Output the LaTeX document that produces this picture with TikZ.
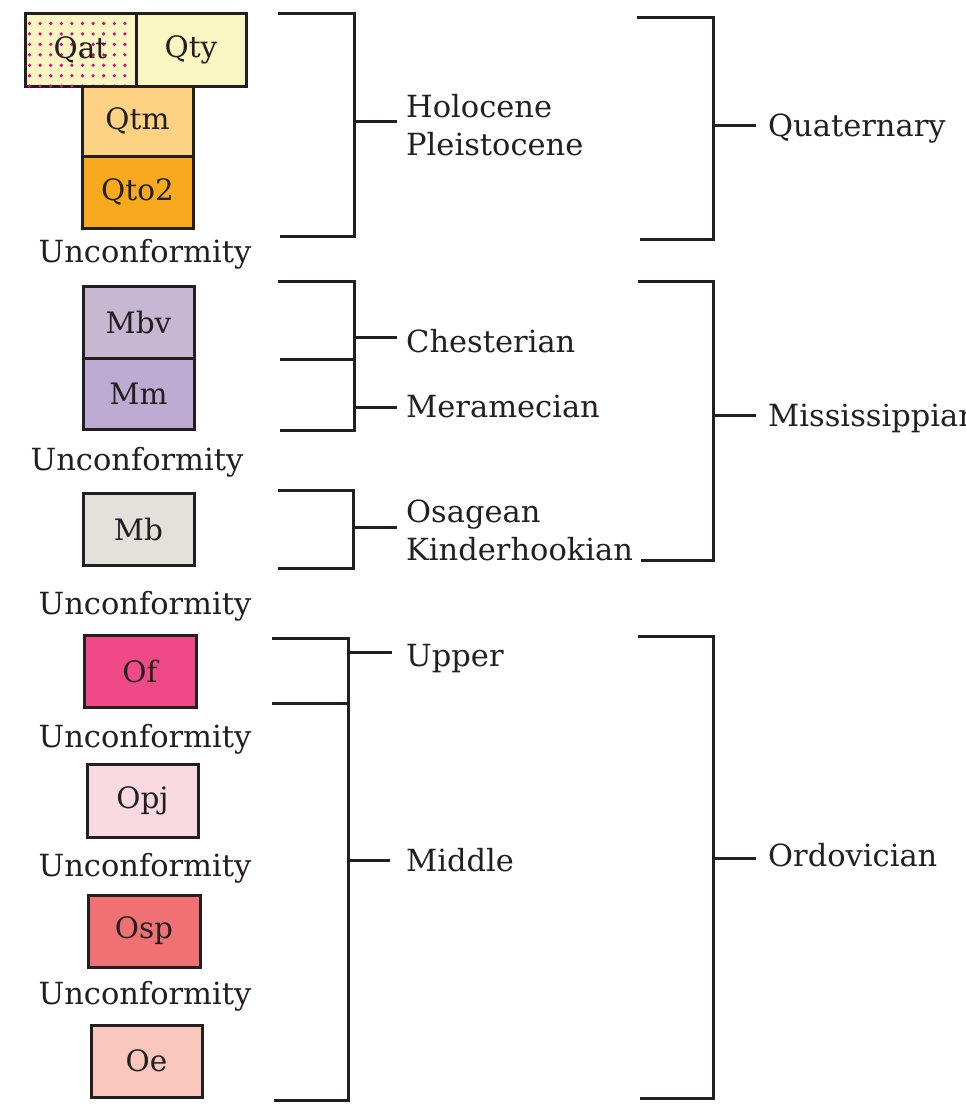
\documentclass[tikz,border=0pt]{standalone}
\usepackage{fontspec}
\setmainfont{DejaVu Serif}
\definecolor{linec}{HTML}{231F20}
\definecolor{txt}{HTML}{231F20}
\definecolor{cQat}{HTML}{FAF6C2}
\definecolor{cQty}{HTML}{FAF6C2}
\definecolor{cQtm}{HTML}{FDD282}
\definecolor{cQto}{HTML}{F9A91E}
\definecolor{cMbv}{HTML}{C5B8D2}
\definecolor{cMm}{HTML}{BCABD3}
\definecolor{cMb}{HTML}{E2E2DB}
\definecolor{cOf}{HTML}{EF4A87}
\definecolor{cOpj}{HTML}{F9DAE2}
\definecolor{cOsp}{HTML}{F07173}
\definecolor{cOe}{HTML}{F9C7BB}
\definecolor{dotc}{HTML}{E6007E}
\begin{document}
\begin{tikzpicture}[x=1pt,y=-1pt,
  box/.style={draw=linec, line width=3pt, inner sep=0pt, text=txt,
    font=\fontsize{29.5}{34}\selectfont},
  lbl/.style={anchor=base west, inner sep=0pt, text=txt,
    font=\fontsize{30.5}{36}\selectfont},
  unc/.style={anchor=base, inner sep=0pt, text=txt,
    font=\fontsize{30.5}{36}\selectfont},
  brk/.style={draw=linec, line width=3pt},
  stub/.style={draw=linec, line width=3pt}]
\useasboundingbox (0,0) rectangle (966,1108);

% ---------- boxes ----------
\node[box, fill=cQat, minimum width=111pt, minimum height=72pt] (Qat) at (80.5,50) {};
\foreach \i in {0,...,9}{
  \foreach \j in {0,...,6}{
    \fill[dotc] (29.5+10.6*\i, 23.5+10.45*\j) circle (1.8pt);
  }
}
\node[inner sep=0pt, text=txt, font=\fontsize{29.5}{34}\selectfont] (Qatl) at (Qat.center) {Qat};
\node[box, fill=cQty, minimum width=110pt, minimum height=72pt] (Qty) at (191,50) {Qty};
\node[box, fill=cQtm, minimum width=111pt, minimum height=70pt] (Qtm) at (137.5,121) {Qtm};
\node[box, fill=cQto, minimum width=111pt, minimum height=72pt] (Qto) at (137.5,192) {Qto2};

\node[box, fill=cMbv, minimum width=111pt, minimum height=72pt] (Mbv) at (138.5,322) {Mbv};
\node[box, fill=cMm, minimum width=111pt, minimum height=71pt] (Mm) at (138.5,393.5) {Mm};
\node[box, fill=cMb, minimum width=111pt, minimum height=72pt] (Mb) at (138.5,529) {Mb};

\node[box, fill=cOf, minimum width=112pt, minimum height=72pt] (Of) at (140,671) {Of};
\node[box, fill=cOpj, minimum width=111pt, minimum height=73pt] (Opj) at (142.5,800.5) {Opj};
\node[box, fill=cOsp, minimum width=112pt, minimum height=72pt] (Osp) at (144,931) {Osp};
\node[box, fill=cOe, minimum width=111pt, minimum height=72pt] (Oe) at (146.5,1061) {Oe};

% ---------- unconformities ----------
\node[unc] (u1) at (145,262) {Unconformity};
\node[unc] (u2) at (137,470) {Unconformity};
\node[unc] (u3) at (145,614) {Unconformity};
\node[unc] (u4) at (145,747) {Unconformity};
\node[unc] (u5) at (145,876) {Unconformity};
\node[unc] (u6) at (145,1004) {Unconformity};

% ---------- first column brackets ----------
\coordinate (a1) at (278,14);  \coordinate (a2) at (354,14);
\coordinate (a3) at (354,236); \coordinate (a4) at (280,236);
\coordinate (am) at (354,121); \coordinate (ae) at (397,121);
\draw[brk] (a1) -- (a2) -- (a3) -- (a4);
\draw[stub] (am) -- (ae);
\node[lbl] (hol) at (406,117) {Holocene};
\node[lbl] (ple) at (406,155) {Pleistocene};

\coordinate (b1) at (278,281);  \coordinate (b2) at (354,281);
\coordinate (b3) at (354,430);  \coordinate (b4) at (280,430);
\coordinate (b5) at (280,359);  \coordinate (b6) at (354,359);
\coordinate (bm1) at (354,337); \coordinate (be1) at (397,337);
\coordinate (bm2) at (354,407); \coordinate (be2) at (397,407);
\draw[brk] (b1) -- (b2) -- (b3) -- (b4);
\draw[brk] (b5) -- (b6);
\draw[stub] (bm1) -- (be1);
\draw[stub] (bm2) -- (be2);
\node[lbl] (che) at (406,352) {Chesterian};
\node[lbl] (mer) at (406,417) {Meramecian};

\coordinate (c1) at (278,490);  \coordinate (c2) at (353,490);
\coordinate (c3) at (353,568);  \coordinate (c4) at (278,568);
\coordinate (cm) at (353,527);  \coordinate (ce) at (397,527);
\draw[brk] (c1) -- (c2) -- (c3) -- (c4);
\draw[stub] (cm) -- (ce);
\node[lbl] (osa) at (406,522) {Osagean};
\node[lbl] (kin) at (406,560) {Kinderhookian};

\coordinate (d1) at (272,638);  \coordinate (d2) at (348,638);
\coordinate (d3) at (348,1100); \coordinate (d4) at (274,1100);
\coordinate (d5) at (272,703);  \coordinate (d6) at (348,703);
\coordinate (dm1) at (348,652); \coordinate (de1) at (392,652);
\coordinate (dm2) at (348,860); \coordinate (de2) at (390,860);
\draw[brk] (d1) -- (d2) -- (d3) -- (d4);
\draw[brk] (d5) -- (d6);
\draw[stub] (dm1) -- (de1);
\draw[stub] (dm2) -- (de2);
\node[lbl] (upp) at (406,666) {Upper};
\node[lbl] (mid) at (406,871) {Middle};

% ---------- second column brackets ----------
\coordinate (e1) at (637,18);   \coordinate (e2) at (713,18);
\coordinate (e3) at (713,239);  \coordinate (e4) at (640,239);
\coordinate (em) at (713,125);  \coordinate (ee) at (756,125);
\draw[brk] (e1) -- (e2) -- (e3) -- (e4);
\draw[stub] (em) -- (ee);
\node[lbl] (qua) at (768,136) {Quaternary};

\coordinate (f1) at (638,281);  \coordinate (f2) at (713,281);
\coordinate (f3) at (713,560);  \coordinate (f4) at (641,560);
\coordinate (fm) at (713,415);  \coordinate (fe) at (756,415);
\draw[brk] (f1) -- (f2) -- (f3) -- (f4);
\draw[stub] (fm) -- (fe);
\node[lbl] (mis) at (768,426) {Mississippian};

\coordinate (g1) at (638,636);  \coordinate (g2) at (713,636);
\coordinate (g3) at (713,1098); \coordinate (g4) at (640,1098);
\coordinate (gm) at (713,858);  \coordinate (ge) at (756,858);
\draw[brk] (g1) -- (g2) -- (g3) -- (g4);
\draw[stub] (gm) -- (ge);
\node[lbl] (ord) at (768,866) {Ordovician};
\end{tikzpicture}
\end{document}
